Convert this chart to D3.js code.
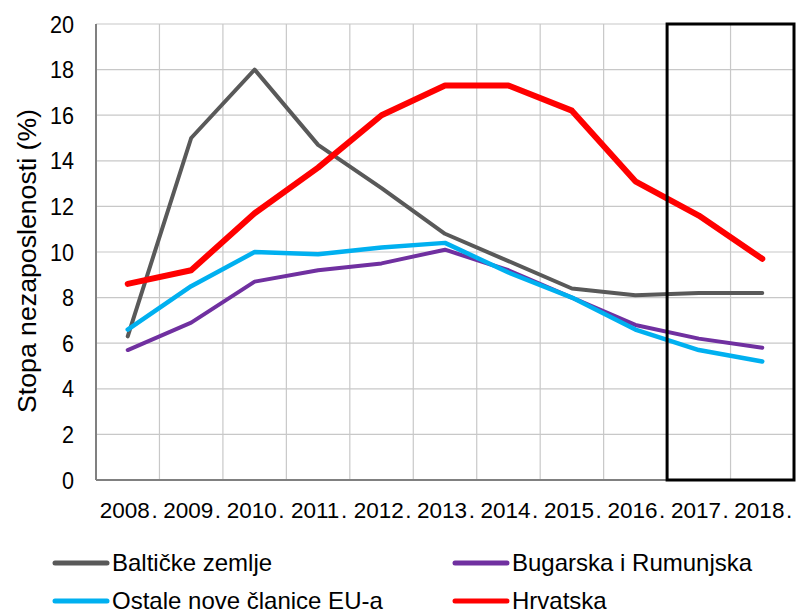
<!DOCTYPE html>
<html>
<head>
<meta charset="utf-8">
<script src="https://cdn.jsdelivr.net/npm/d3@7"></script>
<style>
  body { margin: 0; background: #fff; }
  text { font-family: "Liberation Sans", Arial, sans-serif; fill: #000; }
</style>
</head>
<body>
<svg width="796" height="613"></svg>
<script>
const years = ["2008.", "2009.", "2010.", "2011.", "2012.", "2013.", "2014.", "2015.", "2016.", "2017.", "2018."]
const yTicks = [0, 2, 4, 6, 8, 10, 12, 14, 16, 18, 20]

const baltic   = [6.3, 15.0, 18.0, 14.7, 12.8, 10.8, 9.6, 8.4, 8.1, 8.2, 8.2]
const bulgRom  = [5.7, 6.9, 8.7, 9.2, 9.5, 10.1, 9.2, 8.0, 6.8, 6.2, 5.8]
const ostale   = [6.6, 8.5, 10.0, 9.9, 10.2, 10.4, 9.1, 8.0, 6.6, 5.7, 5.2]
const hrvatska = [8.6, 9.2, 11.7, 13.7, 16.0, 17.3, 17.3, 16.2, 13.1, 11.6, 9.7]

const series = [
  {name: "Baltičke zemlje", values: baltic, color: "#595959", width: 4},
  {name: "Bugarska i Rumunjska", values: bulgRom, color: "#7030a0", width: 4},
  {name: "Ostale nove članice EU-a", values: ostale, color: "#00b0f0", width: 4.5},
  {name: "Hrvatska", values: hrvatska, color: "#ff0000", width: 6}
]

let svg = d3.select("svg")
let plotLeft = 96, plotRight = 794, plotTop = 24, plotBottom = 480

let x = d3.scaleBand().domain(years).range([plotLeft, plotRight])
let y = d3.scaleLinear().domain([0, 20]).range([plotBottom, plotTop])

// horizontal gridlines
svg.append("g")
  .selectAll("line")
  .data(yTicks.slice(1))
  .enter().append("line")
    .attr("x1", plotLeft).attr("x2", plotRight)
    .attr("y1", d => y(d)).attr("y2", d => y(d))
    .attr("stroke", "#c8c8c8").attr("stroke-width", 1.2)

// vertical gridlines at category boundaries
svg.append("g")
  .selectAll("line")
  .data(years.slice(1))
  .enter().append("line")
    .attr("x1", d => x(d)).attr("x2", d => x(d))
    .attr("y1", plotTop).attr("y2", plotBottom)
    .attr("stroke", "#c8c8c8").attr("stroke-width", 1.2)
svg.append("line")
  .attr("x1", plotRight).attr("x2", plotRight)
  .attr("y1", plotTop).attr("y2", plotBottom)
  .attr("stroke", "#c8c8c8").attr("stroke-width", 1.2)

// axes lines
svg.append("line")
  .attr("x1", plotLeft).attr("x2", plotLeft).attr("y1", plotTop).attr("y2", plotBottom)
  .attr("stroke", "#808080").attr("stroke-width", 2)
svg.append("line")
  .attr("x1", plotLeft).attr("x2", plotRight).attr("y1", plotBottom).attr("y2", plotBottom)
  .attr("stroke", "#808080").attr("stroke-width", 2)

// y tick labels (slightly tall glyphs in the original)
svg.append("g")
  .selectAll("text")
  .data(yTicks)
  .enter().append("text")
    .attr("transform", d => `translate(74,${y(d)}) scale(0.9,1)`)
    .attr("dy", "0.36em")
    .attr("text-anchor", "end")
    .attr("font-size", 24)
    .text(d => d)

// x tick labels, period set a little apart
let xl = svg.append("g")
  .selectAll("text")
  .data(years)
  .enter().append("text")
    .attr("x", d => x(d) + x.bandwidth() / 2 + 1)
    .attr("y", 518)
    .attr("text-anchor", "middle")
    .attr("font-size", 22.5)
xl.append("tspan").text(d => d.slice(0, -1))
xl.append("tspan").attr("dx", 1.5).text(".")

// y axis title
svg.append("text")
  .attr("transform", "translate(36,261) rotate(-90)")
  .attr("text-anchor", "middle")
  .attr("font-size", 26)
  .attr("textLength", 304)
  .attr("lengthAdjust", "spacingAndGlyphs")
  .text("Stopa nezaposlenosti (%)")

// lines
let line = d3.line()
  .x((d, i) => x(years[i]) + x.bandwidth() / 2)
  .y(d => y(d))

svg.append("g")
  .selectAll("path")
  .data(series)
  .enter().append("path")
    .attr("d", d => line(d.values))
    .attr("fill", "none")
    .attr("stroke", d => d.color)
    .attr("stroke-width", d => d.width)
    .attr("stroke-linejoin", "round")
    .attr("stroke-linecap", "round")

// highlight box around 2017-2018
svg.append("rect")
  .attr("x", x("2017."))
  .attr("y", plotTop)
  .attr("width", plotRight - x("2017."))
  .attr("height", plotBottom - plotTop)
  .attr("fill", "none")
  .attr("stroke", "#000")
  .attr("stroke-width", 3)

// legend, two columns
let legend = svg.append("g")
  .selectAll("g")
  .data(series)
  .enter().append("g")
    .attr("transform", (d, i) => `translate(${i % 2 ? 455 : 55},${i < 2 ? 563 : 601})`)
legend.append("line")
  .attr("x1", 0).attr("x2", 52)
  .attr("stroke", d => d.color)
  .attr("stroke-width", 5)
  .attr("stroke-linecap", "round")
legend.append("text")
  .attr("x", 57)
  .attr("y", 8)
  .attr("font-size", 24)
  .text(d => d.name)
</script>
</body>
</html>
